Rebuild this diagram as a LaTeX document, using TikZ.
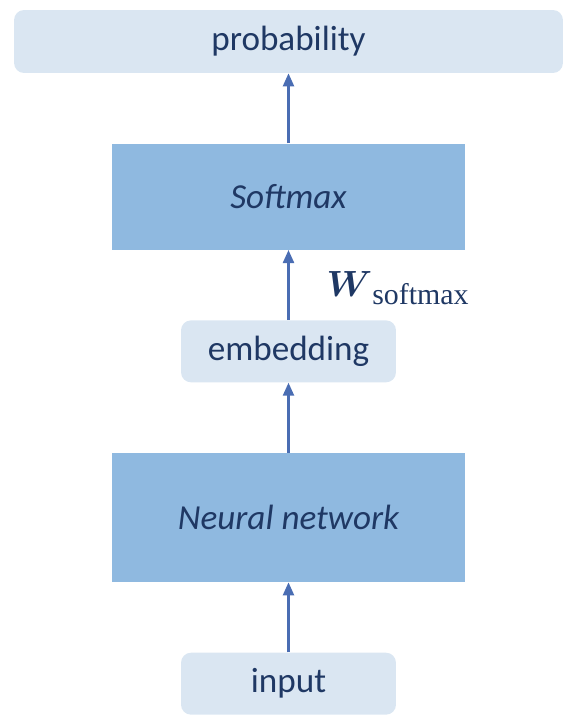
\documentclass[tikz,border=0pt]{standalone}
\usepackage{amsmath}
\usepackage{fontspec}
\setmainfont{Carlito}
\newfontfamily\subfont{Liberation Serif}
\usetikzlibrary{positioning}
\usetikzlibrary{arrows.meta}
\definecolor{mylight}{HTML}{DAE6F2}
\definecolor{mydark}{HTML}{8FB9E0}
\definecolor{mytext}{HTML}{1F3864}
\definecolor{myarrow}{HTML}{4A6DB3}
\newlength\gap
\setlength{\gap}{1.4cm}

\begin{document}
\begin{tikzpicture}[
    x=0.02cm, y=-0.02cm,
    node distance=\gap,
    text=mytext,
    every node/.style={
      inner sep=0pt,
      font=\fontsize{20}{24}\selectfont
    },
    lightbox/.style={
      rectangle,
      rounded corners=0.2cm,
      fill=mylight,
      minimum height=1.24cm
    },
    darkbox/.style={
      rectangle,
      fill=mydark,
      minimum width=7.08cm,
      font=\fontsize{20}{24}\selectfont\itshape
    },
    arrow/.style={
      -{Triangle[length=0.26cm, width=0.22cm]},
      line width=1.3pt,
      draw=myarrow
    }
]
  \useasboundingbox (0,0) rectangle (574,724);

  \node (probability) [lightbox, minimum width=10.98cm, minimum height=1.26cm]
    at (288.5,41.5) {probability};

  \node (softmax) [darkbox, minimum height=2.12cm, below=of probability] {Softmax};

  \node (embedding) [lightbox, minimum width=4.3cm, below=of softmax] {embedding};

  \node (network) [darkbox, minimum height=2.58cm, below=of embedding] {Neural network};

  \node (input) [lightbox, minimum width=4.3cm, below=of network] {input};

  \draw[arrow] (input) -- (network);
  \draw[arrow] (network) -- (embedding);
  \draw[arrow] (embedding) --
  node (wsoftmax) [pos=0.45, right=0.74cm, anchor=west] {
    \fontsize{21}{24}\selectfont$\boldsymbol{W}$%
    \raisebox{-0.16cm}{\fontsize{17}{18}\selectfont\subfont softmax}
  }
  (softmax);
  \draw[arrow] (softmax) -- (probability);

\end{tikzpicture}
\end{document}
